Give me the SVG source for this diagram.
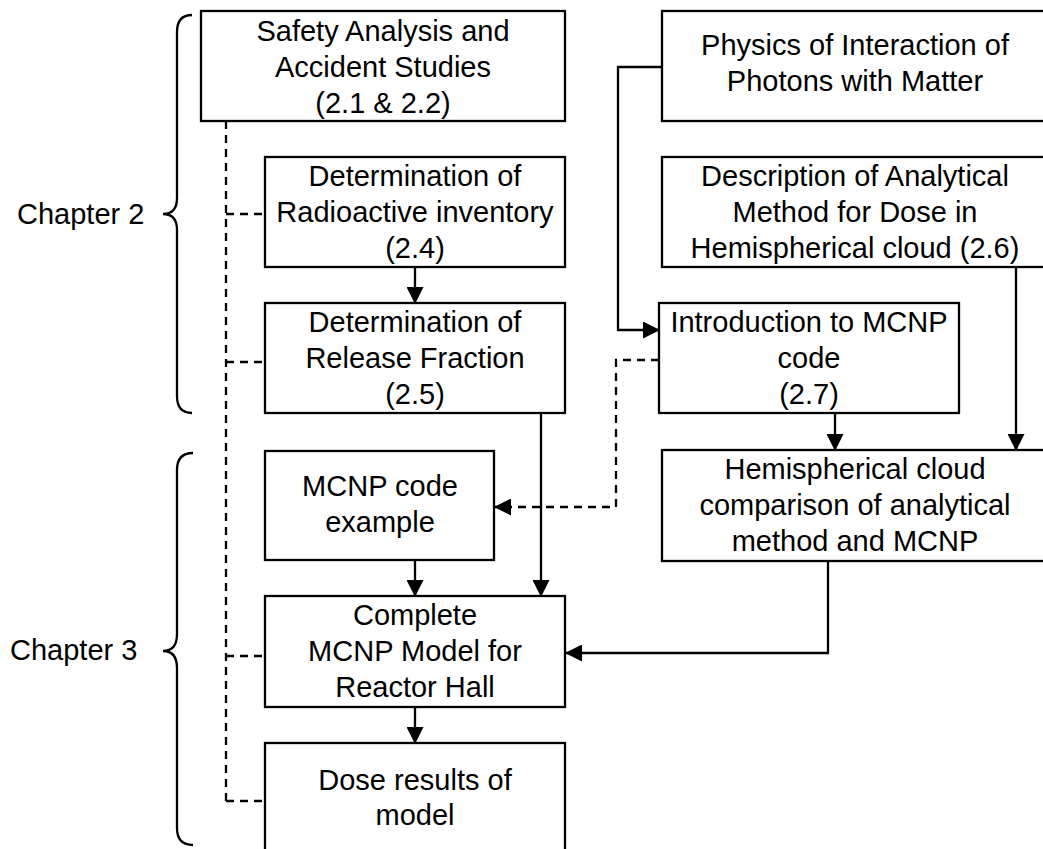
<svg xmlns="http://www.w3.org/2000/svg" width="1043" height="849" viewBox="0 0 1043 849">
<style>
.box{fill:#fff;stroke:#000;stroke-width:2.3}
.t{font-family:"Liberation Sans",Arial,sans-serif;font-size:29px;fill:#000;text-anchor:middle}
.tl{font-family:"Liberation Sans",Arial,sans-serif;font-size:29px;fill:#000}
.c{fill:none;stroke:#000;stroke-width:2.3}
.d{fill:none;stroke:#000;stroke-width:2.3;stroke-dasharray:8,6}
.b{fill:none;stroke:#000;stroke-width:2.3}
</style>
<defs>
<marker id="ah" markerWidth="17" markerHeight="17" refX="16" refY="8.5" orient="auto" markerUnits="userSpaceOnUse">
<path d="M0,0 L17,8.5 L0,17 Z" fill="#000"/>
</marker>
</defs>
<rect width="1043" height="849" fill="#fff"/>
<g id="braces">
<path class="b" d="M192,15 Q177,15 177,32 L177,198 Q177,214 163,214 Q177,214 177,230 L177,396 Q177,413 192,413"/>
<path class="b" d="M193,453 Q177,453 177,470 L177,634 Q177,651 163,651 Q177,651 177,668 L177,828 Q177,845 193,845"/>
<text class="tl" x="17" y="224">Chapter 2</text>
<text class="tl" x="10" y="660">Chapter 3</text>
</g>
<g id="connectors">
<path class="d" d="M226,121 L226,801"/>
<path class="d" d="M226,214 L265,214"/>
<path class="d" d="M226,362 L265,362"/>
<path class="d" d="M226,656 L265,656"/>
<path class="d" d="M226,801 L265,801"/>
<path class="c" d="M415,267 L415,303" marker-end="url(#ah)"/>
<path class="c" d="M541,413 L541,596" marker-end="url(#ah)"/>
<path class="c" d="M415,560 L415,596" marker-end="url(#ah)"/>
<path class="c" d="M415,707 L415,743" marker-end="url(#ah)"/>
<path class="c" d="M662,67 L618,67 L618,330 L659,330" marker-end="url(#ah)"/>
<path class="c" d="M1016,267 L1016,450" marker-end="url(#ah)"/>
<path class="c" d="M835,413 L835,450" marker-end="url(#ah)"/>
<path class="c" d="M828,561 L828,653 L566,653" marker-end="url(#ah)"/>
<path class="d" d="M659,360 L616,360 L616,507 L495,507" marker-end="url(#ah)"/>
</g>
<g id="n-safety">
<rect class="box" x="201" y="11" width="364" height="110"/>
<text class="t" x="383" y="41">Safety Analysis and</text>
<text class="t" x="383" y="77">Accident Studies</text>
<text class="t" x="383" y="113">(2.1 &amp; 2.2)</text>
</g>
<g id="n-inventory">
<rect class="box" x="265" y="157" width="300" height="110"/>
<text class="t" x="415" y="186">Determination of</text>
<text class="t" x="415" y="222">Radioactive inventory</text>
<text class="t" x="415" y="258">(2.4)</text>
</g>
<g id="n-release">
<rect class="box" x="265" y="303" width="300" height="110"/>
<text class="t" x="415" y="332">Determination of</text>
<text class="t" x="415" y="368">Release Fraction</text>
<text class="t" x="415" y="404">(2.5)</text>
</g>
<g id="n-example">
<rect class="box" x="265" y="451" width="229" height="109"/>
<text class="t" x="380" y="496">MCNP code</text>
<text class="t" x="380" y="532">example</text>
</g>
<g id="n-complete">
<rect class="box" x="265" y="596" width="300" height="111"/>
<text class="t" x="415" y="625">Complete</text>
<text class="t" x="415" y="661">MCNP Model for</text>
<text class="t" x="415" y="697">Reactor Hall</text>
</g>
<g id="n-dose">
<rect class="box" x="265" y="743" width="300" height="112"/>
<text class="t" x="415" y="790">Dose results of</text>
<text class="t" x="415" y="825">model</text>
</g>
<g id="n-physics">
<rect class="box" x="662" y="11" width="387" height="110"/>
<text class="t" x="855" y="55">Physics of Interaction of</text>
<text class="t" x="855" y="91">Photons with Matter</text>
</g>
<g id="n-description">
<rect class="box" x="662" y="157" width="387" height="110"/>
<text class="t" x="855" y="186">Description of Analytical</text>
<text class="t" x="855" y="222">Method for Dose in</text>
<text class="t" x="855" y="258">Hemispherical cloud (2.6)</text>
</g>
<g id="n-intro">
<rect class="box" x="659" y="303" width="300" height="110"/>
<text class="t" x="809" y="332">Introduction to MCNP</text>
<text class="t" x="809" y="368">code</text>
<text class="t" x="809" y="404">(2.7)</text>
</g>
<g id="n-hemi">
<rect class="box" x="662" y="450" width="387" height="111"/>
<text class="t" x="855" y="479">Hemispherical cloud</text>
<text class="t" x="855" y="515">comparison of analytical</text>
<text class="t" x="855" y="551">method and MCNP</text>
</g>
</svg>
